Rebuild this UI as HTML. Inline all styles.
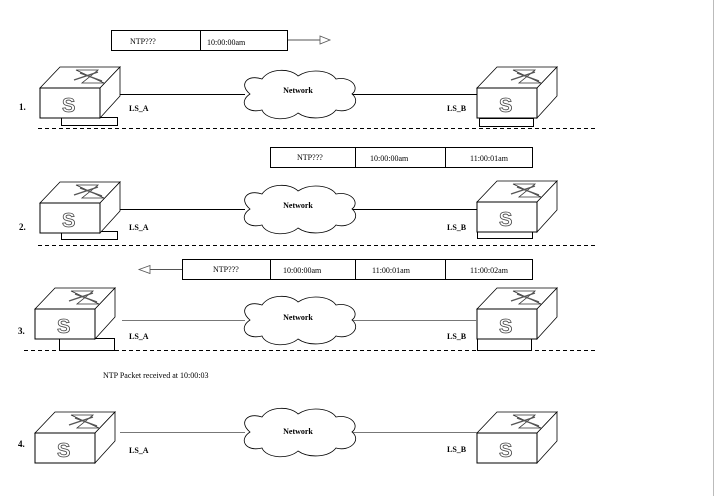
<!DOCTYPE html>
<html><head><meta charset="utf-8"><style>
html,body{margin:0;padding:0;background:#fff;}
svg{display:block;font-family:"Liberation Serif",serif;}
</style></head><body>
<svg width="715" height="496" viewBox="0 0 715 496" xmlns="http://www.w3.org/2000/svg">
<defs>
<g id="sw">
  <polygon points="0,0 20,-21 80,-21 60,0" fill="#fff" stroke="#000" stroke-width="0.8"/>
  <polygon points="60,0 80,-21 80,8 60,30" fill="#fff" stroke="#000" stroke-width="0.8"/>
  <rect x="0" y="0" width="60" height="30" fill="#fff" stroke="#000" stroke-width="1"/>
  <path d="M36,-18 L58,-18 L42,-5 L64,-5 Z" fill="none" stroke="#333" stroke-width="0.8"/>
  <path d="M34,-8 L58,-16 M40,-15 L62,-7" stroke="#555" stroke-width="1.4"/>
</g>
</defs>
<line x1="713.5" y1="0" x2="713.5" y2="496" stroke="#bbb" stroke-width="1"/>

<!-- Row 1 -->
<rect x="111.5" y="30.5" width="176" height="20" fill="#fff" stroke="#000"/>
<line x1="200.5" y1="30" x2="200.5" y2="51" stroke="#000"/>
<text x="130" y="44" font-size="8">NTP???</text>
<text x="207" y="45" font-size="8">10:00:00am</text>
<line x1="288" y1="40" x2="320" y2="40" stroke="#555"/>
<path d="M320,36 L330,40 L320,44 Z" fill="#fff" stroke="#555" stroke-width="0.8"/>

<rect x="61.5" y="117.5" width="56" height="8" fill="#fff" stroke="#000"/>
<use href="#sw" x="40" y="88"/>
<rect x="479.5" y="118.5" width="54" height="8" fill="#fff" stroke="#000"/>
<use href="#sw" x="477" y="88"/>
<line x1="120" y1="94.5" x2="245" y2="94.5" stroke="#000"/>
<line x1="352" y1="94.5" x2="477" y2="94.5" stroke="#000"/>
<text x="19" y="110" font-size="9" font-weight="bold">1.</text>
<text x="129" y="111" font-size="8" font-weight="bold">LS_A</text>
<text x="447" y="111" font-size="8" font-weight="bold">LS_B</text>
<line x1="38" y1="128.5" x2="595" y2="128.5" stroke="#000" stroke-dasharray="4,3"/>

<!-- Row 2 -->
<rect x="270.5" y="147.5" width="262" height="20" fill="#fff" stroke="#000"/>
<line x1="355.5" y1="147" x2="355.5" y2="168" stroke="#000"/>
<line x1="445.5" y1="147" x2="445.5" y2="168" stroke="#000"/>
<text x="297" y="160" font-size="8">NTP???</text>
<text x="370" y="161" font-size="8">10:00:00am</text>
<text x="470" y="161" font-size="8">11:00:01am</text>
<rect x="61.5" y="231.5" width="56" height="8" fill="#fff" stroke="#000"/>
<use href="#sw" x="40" y="203"/>
<rect x="477.5" y="230.5" width="55" height="8" fill="#fff" stroke="#000"/>
<use href="#sw" x="477" y="202"/>
<line x1="120" y1="209.5" x2="245" y2="209.5" stroke="#000"/>
<line x1="352" y1="209.5" x2="477" y2="209.5" stroke="#000"/>
<text x="19" y="230" font-size="9" font-weight="bold">2.</text>
<text x="129" y="230" font-size="8" font-weight="bold">LS_A</text>
<text x="447" y="230" font-size="8" font-weight="bold">LS_B</text>
<line x1="38" y1="245.5" x2="595" y2="245.5" stroke="#000" stroke-dasharray="4,3"/>

<!-- Row 3 -->
<rect x="182.5" y="259.5" width="350" height="20" fill="#fff" stroke="#000"/>
<line x1="270.5" y1="259" x2="270.5" y2="280" stroke="#000"/>
<line x1="355.5" y1="259" x2="355.5" y2="280" stroke="#000"/>
<line x1="445.5" y1="259" x2="445.5" y2="280" stroke="#000"/>
<text x="213" y="272" font-size="8">NTP???</text>
<text x="283" y="273" font-size="8">10:00:00am</text>
<text x="372" y="273" font-size="8">11:00:01am</text>
<text x="470" y="273" font-size="8">11:00:02am</text>
<line x1="150" y1="269.5" x2="182" y2="269.5" stroke="#555"/>
<path d="M150,265.5 L139,269.5 L150,273.5 Z" fill="#fff" stroke="#555" stroke-width="0.8"/>
<rect x="59.5" y="338.5" width="55" height="12" fill="#fff" stroke="#000"/>
<use href="#sw" x="35" y="309"/>
<rect x="477.5" y="338.5" width="54" height="12" fill="#fff" stroke="#000"/>
<use href="#sw" x="477" y="309"/>
<line x1="122" y1="320.5" x2="245" y2="320.5" stroke="#777"/>
<line x1="352" y1="320.5" x2="477" y2="320.5" stroke="#777"/>
<text x="18" y="334" font-size="9" font-weight="bold">3.</text>
<text x="129" y="339" font-size="8" font-weight="bold">LS_A</text>
<text x="447" y="339" font-size="8" font-weight="bold">LS_B</text>
<line x1="24" y1="350.5" x2="595" y2="350.5" stroke="#000" stroke-dasharray="4,3"/>

<text x="103" y="378" font-size="8">NTP Packet received at 10:00:03</text>

<!-- Row 4 -->
<use href="#sw" x="35" y="433"/>
<use href="#sw" x="477" y="433"/>
<line x1="120" y1="432.5" x2="245" y2="432.5" stroke="#777"/>
<line x1="352" y1="432.5" x2="477" y2="432.5" stroke="#777"/>
<text x="18" y="447" font-size="9" font-weight="bold">4.</text>
<text x="129" y="453" font-size="8" font-weight="bold">LS_A</text>
<text x="447" y="452" font-size="8" font-weight="bold">LS_B</text>

<!-- S glyphs -->
<g font-size="20" font-weight="bold" fill="#fff" stroke="#444" stroke-width="0.8" font-family="Liberation Sans,sans-serif">
<text x="62" y="112">S</text>
<text x="499" y="112">S</text>
<text x="62" y="227">S</text>
<text x="499" y="226">S</text>
<text x="57" y="333">S</text>
<text x="499" y="333">S</text>
<text x="57" y="457">S</text>
<text x="499" y="457">S</text>
</g>

<!-- Clouds -->
<g fill="#fff" stroke="#000" stroke-width="0.8">
<path id="cl" d="M250,94 C238,84 248,74 262,79 C270,68 290,68 298,76 C310,68 330,70 336,79 C352,76 360,88 352,94 C362,102 350,114 336,110 C328,120 308,120 298,113 C288,122 266,120 262,110 C246,114 238,102 250,94 Z"/>
<use href="#cl" y="115"/>
<use href="#cl" y="226"/>
<use href="#cl" y="338"/>
</g>
<g font-size="8" font-weight="bold" text-anchor="middle">
<text x="298" y="93">Network</text>
<text x="298" y="208">Network</text>
<text x="298" y="320">Network</text>
<text x="298" y="434">Network</text>
</g>
</svg>
</body></html>
